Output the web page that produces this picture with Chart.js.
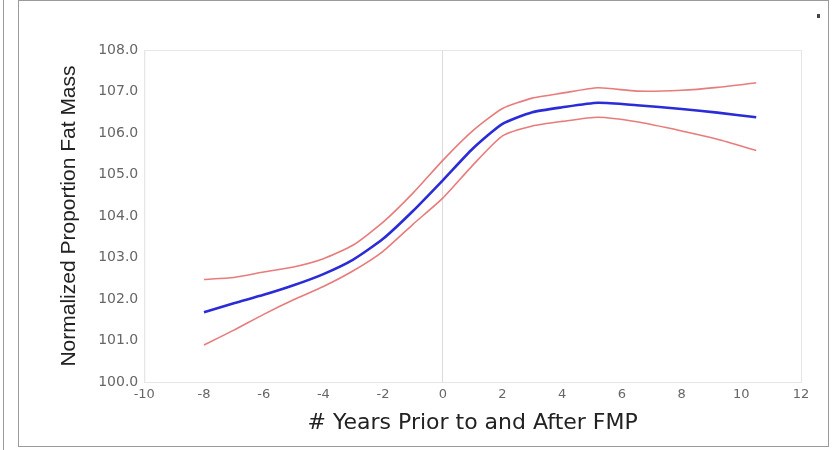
<!DOCTYPE html>
<html>
<head>
<meta charset="utf-8">
<script src="https://cdn.jsdelivr.net/npm/chart.js@4/dist/chart.umd.min.js"></script>
<style>
  body { margin: 0; background: #fff; }
  #wrap { position: relative; width: 837px; height: 450px; overflow: hidden; }
  #frame { position: absolute; left: 18px; top: 0; width: 809px; height: 445px; border: 1px solid #9a9a9a; box-sizing: content-box; }
  #edge { position: absolute; left: 3px; top: 0; width: 1px; height: 450px; background: #9a9a9a; }
  #dot { position: absolute; left: 817px; top: 14px; width: 3px; height: 4px; background: #444; }
  #box { position: absolute; left: 0; top: 0; width: 837px; height: 450px; }
</style>
</head>
<body>
<div id="wrap">
  <div id="edge"></div>
  <div id="frame"></div>
  <div id="dot"></div>
  <div id="box"><canvas id="lineChart"></canvas></div>
</div>
<script>
// years relative to final menstrual period
const years = [-8, -7, -6, -5, -4, -3, -2, -1, 0, 1, 2, 3, 4, 5.2, 6.5, 8, 9.2, 10.5];
const meanFat = [101.68, 101.9, 102.1, 102.33, 102.6, 102.95, 103.45, 104.12, 104.86, 105.62, 106.22, 106.5, 106.62, 106.73, 106.67, 106.58, 106.49, 106.38];
const upperCI = [102.47, 102.52, 102.65, 102.77, 102.97, 103.3, 103.85, 104.55, 105.34, 106.05, 106.59, 106.84, 106.96, 107.09, 107.01, 107.03, 107.1, 107.21];
const lowerCI = [100.89, 101.25, 101.63, 101.98, 102.3, 102.68, 103.15, 103.8, 104.43, 105.22, 105.93, 106.17, 106.28, 106.38, 106.27, 106.05, 105.85, 105.58];
const xTicks = [-10, -8, -6, -4, -2, 0, 2, 4, 6, 8, 10, 12];
const yTicks = [100, 101, 102, 103, 104, 105, 106, 107, 108];

const toPoints = (vals) => years.map((x, i) => ({ x: x, y: vals[i] }));

// light frame around the plot area
const plotFrame = {
  id: "plotFrame",
  beforeDatasetsDraw(chart) {
    const a = chart.chartArea;
    const ctx = chart.ctx;
    ctx.save();
    ctx.strokeStyle = "#e6e6e6";
    ctx.lineWidth = 1;
    ctx.strokeRect(a.left + 0.5, a.top + 0.5, a.right - a.left, a.bottom - a.top);
    ctx.restore();
  },
};

const lineChart = new Chart(document.getElementById("lineChart"), {
  type: "line",
  data: {
    datasets: [
      {
        label: "Upper",
        data: toPoints(upperCI),
        borderColor: "rgba(228, 100, 100, 0.85)",
        borderWidth: 1.6,
        pointRadius: 0,
        tension: 0.2,
      },
      {
        label: "Mean",
        data: toPoints(meanFat),
        borderColor: "#2b2bd8",
        borderWidth: 2.6,
        pointRadius: 0,
        tension: 0.2,
      },
      {
        label: "Lower",
        data: toPoints(lowerCI),
        borderColor: "rgba(228, 100, 100, 0.85)",
        borderWidth: 1.6,
        pointRadius: 0,
        tension: 0.2,
      },
    ],
  },
  options: {
    responsive: true,
    maintainAspectRatio: false,
    animation: false,
    layout: {
      padding: { left: 57, right: 36, top: 50, bottom: 14 },
    },
    scales: {
      x: {
        type: "linear",
        min: -10,
        max: 12,
        afterBuildTicks: (axis) => { axis.ticks = xTicks.map((v) => ({ value: v })); },
        ticks: {
          color: "#666",
          font: { family: "DejaVu Sans", size: 13 },
          padding: 5,
        },
        grid: {
          drawTicks: false,
          color: (c) => (c.tick && c.tick.value === 0 ? "#dcdcdc" : "rgba(0,0,0,0)"),
        },
        border: { color: "#e6e6e6" },
        title: {
          display: true,
          text: "# Years Prior to and After FMP",
          color: "#222",
          font: { family: "DejaVu Sans", size: 22 },
          padding: { top: 2, bottom: 0 },
        },
      },
      y: {
        min: 100,
        max: 108,
        afterBuildTicks: (axis) => { axis.ticks = yTicks.map((v) => ({ value: v })); },
        ticks: {
          color: "#666",
          font: { family: "DejaVu Sans", size: 14 },
          padding: 6,
          callback: (v) => Number(v).toFixed(1),
        },
        grid: { display: false, drawTicks: false },
        border: { color: "#e6e6e6" },
        title: {
          display: true,
          text: "Normalized Proportion Fat Mass",
          color: "#222",
          font: { family: "Liberation Sans", size: 21 },
          padding: { top: 0, bottom: 10 },
        },
      },
    },
    plugins: {
      legend: { display: false },
      tooltip: { enabled: false },
    },
  },
  plugins: [plotFrame],
});
</script>
</body>
</html>
